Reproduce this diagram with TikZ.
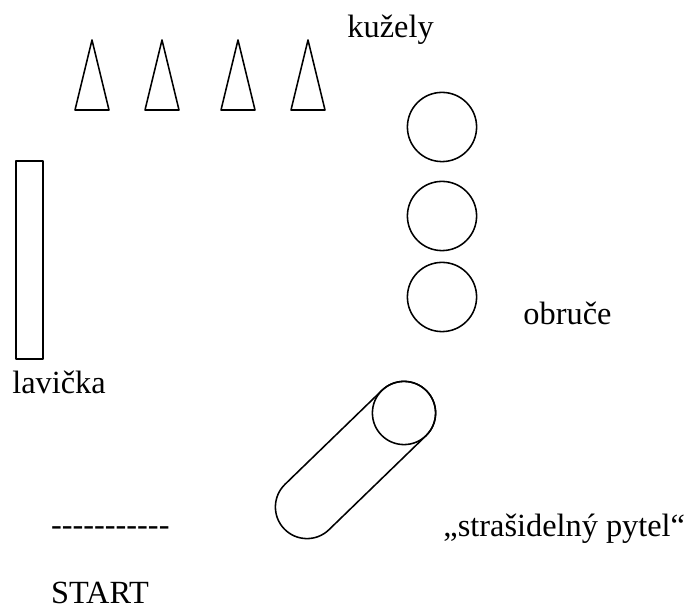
\documentclass[tikz,border=0pt]{standalone}
\usepackage{fontspec}
\setmainfont{Liberation Serif}
\usetikzlibrary{calc}
\tikzset{
  popis/.style={anchor=base west, inner sep=0pt, font=\fontsize{23}{28}\selectfont},
  obrys/.style={draw, line width=1.1pt, line join=round}
}
\begin{document}
\begin{tikzpicture}[scale=1.0]
  \useasboundingbox (0,0) rectangle (17.2,15.25);
  % Kužely
  \foreach \x in {2.3,4.05,5.95,7.7}
    \draw[obrys] (\x-0.425,12.5) -- (\x,14.25) -- (\x+0.425,12.5) -- cycle;
  \node[popis] (kuzely) at (8.68,14.3) {kužely};
  % Obruče
  \draw[obrys] (11.05,12.075) circle (0.865);
  \draw[obrys] (11.05,9.85) circle (0.865);
  \draw[obrys] (11.05,7.825) circle (0.865);
  \node[popis] (obruce) at (13.08,7.125) {obruče};
  % Lavička
  \draw[obrys] (0.4,6.275) rectangle (1.075,11.225);
  \node[popis] (lavicka) at (0.3,5.41) {lavička};
  % Strašidelný pytel
  \coordinate (pytelA) at (10.1,4.925);
  \draw[obrys, shift={(pytelA)}, rotate=224.1, rounded corners=0.79cm] (-0.79,-0.79) rectangle (4.167,0.79);
  \draw[obrys] (pytelA) circle (0.79);
  \node[popis] (pytel) at (11.08,1.825) {„strašidelný pytel“};
  % Start
  \node[popis] (cara) at (1.27,1.85) {\foreach \i in {1,...,11}{-\kern0pt}};
  \node[popis] (start) at (1.27,0.15) {START};
\end{tikzpicture}
\end{document}
